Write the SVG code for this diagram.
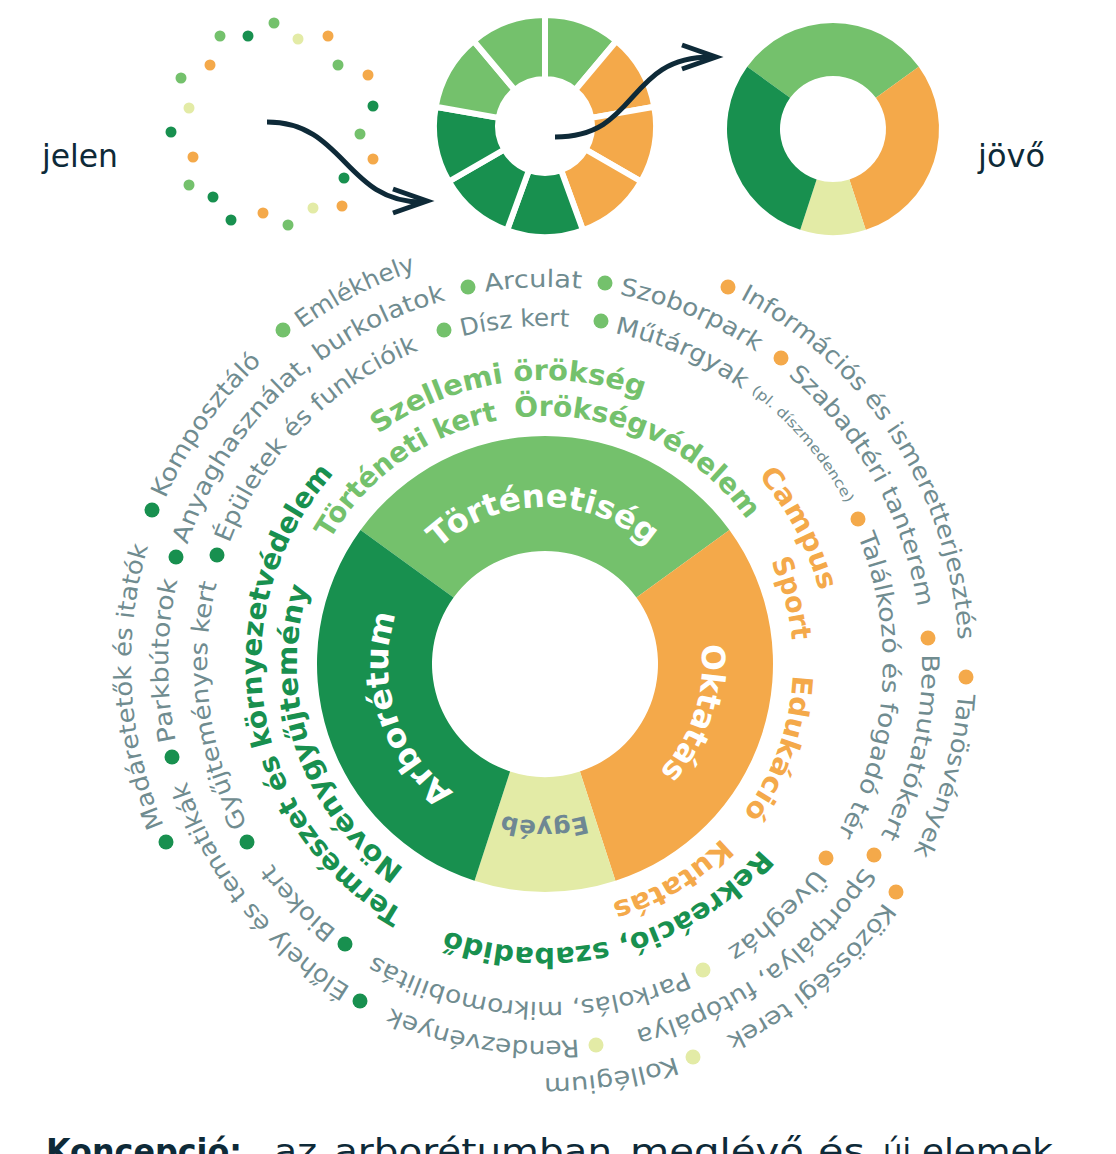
<svg xmlns="http://www.w3.org/2000/svg" width="1116" height="1154" viewBox="0 0 1116 1154">
<style>
.it{font-family:'DejaVu Sans',sans-serif;font-size:24px;fill:#708C90}
.sm{font-family:'DejaVu Sans',sans-serif;font-size:14px;fill:#708C90}
.cat{font-family:'DejaVu Sans',sans-serif;font-size:28px;font-weight:bold}
.lab{font-family:'DejaVu Sans',sans-serif;font-size:32px;font-weight:bold;fill:#fff}
.lg{fill:#74C16C}.dg{fill:#18904F}.or{fill:#F4A94A}.py{fill:#E3EBA6}
.seg{stroke:#fff;stroke-width:6;stroke-linejoin:miter}
.arr{fill:none;stroke:#0E2A38;stroke-width:5;stroke-linecap:butt;stroke-linejoin:miter}
.nv{font-family:'DejaVu Sans',sans-serif;fill:#0E2A38}
</style>
<defs>
<path id="p414" d="M545,1078 A414,414 0 1 1 545,250 A414,414 0 1 1 545,1078 A414,414 0 1 1 545,250 A414,414 0 1 1 545,1078"/>
<path id="p377" d="M545,1041 A377,377 0 1 1 545,287 A377,377 0 1 1 545,1041 A377,377 0 1 1 545,287 A377,377 0 1 1 545,1041"/>
<path id="p338" d="M545,1002 A338,338 0 1 1 545,326 A338,338 0 1 1 545,1002 A338,338 0 1 1 545,326 A338,338 0 1 1 545,1002"/>
<path id="p341" d="M545,1005 A341,341 0 1 1 545,323 A341,341 0 1 1 545,1005 A341,341 0 1 1 545,323 A341,341 0 1 1 545,1005"/>
<path id="p284" d="M545,948 A284,284 0 1 1 545,380 A284,284 0 1 1 545,948 A284,284 0 1 1 545,380 A284,284 0 1 1 545,948"/>
<path id="p248" d="M545,912 A248,248 0 1 1 545,416 A248,248 0 1 1 545,912 A248,248 0 1 1 545,416 A248,248 0 1 1 545,912"/>
<path id="p157" d="M545,821 A157,157 0 1 1 545,507 A157,157 0 1 1 545,821 A157,157 0 1 1 545,507 A157,157 0 1 1 545,821"/>
</defs>
<rect width="1116" height="1154" fill="#fff"/>

<g id="jelen">
<text class="nv" x="42" y="167" font-size="32" textLength="76" lengthAdjust="spacingAndGlyphs">jelen</text>
<g id="jelen-dots">
<circle cx="274" cy="23" r="5.5" class="lg"/><circle cx="220" cy="36" r="5.5" class="lg"/><circle cx="248" cy="36" r="5.5" class="dg"/>
<circle cx="298" cy="39" r="5.5" class="py"/><circle cx="328" cy="36" r="5.5" class="or"/><circle cx="210" cy="65" r="5.5" class="or"/>
<circle cx="338" cy="65" r="5.5" class="lg"/><circle cx="181" cy="78" r="5.5" class="lg"/><circle cx="368" cy="75" r="5.5" class="or"/>
<circle cx="189" cy="108" r="5.5" class="py"/><circle cx="373" cy="106" r="5.5" class="dg"/><circle cx="171" cy="132" r="5.5" class="dg"/>
<circle cx="360" cy="134" r="5.5" class="lg"/><circle cx="193" cy="157" r="5.5" class="or"/><circle cx="373" cy="159" r="5.5" class="or"/>
<circle cx="189" cy="185" r="5.5" class="lg"/><circle cx="344" cy="178" r="5.5" class="dg"/><circle cx="213" cy="197" r="5.5" class="dg"/>
<circle cx="342" cy="206" r="5.5" class="or"/><circle cx="313" cy="208" r="5.5" class="py"/><circle cx="231" cy="220" r="5.5" class="dg"/>
<circle cx="263" cy="213" r="5.5" class="or"/><circle cx="288" cy="225" r="5.5" class="lg"/>
</g>
</g>

<g id="atmenet">
<path class="seg lg" d="M545,15 A111,111 0 0 1 616.35,40.97 L575.21,90 A47,47 0 0 0 545,79 Z"/>
<path class="seg or" d="M616.35,40.97 A111,111 0 0 1 654.31,106.73 L591.29,117.84 A47,47 0 0 0 575.21,90 Z"/>
<path class="seg or" d="M654.31,106.73 A111,111 0 0 1 641.13,181.5 L585.7,149.5 A47,47 0 0 0 591.29,117.84 Z"/>
<path class="seg or" d="M641.13,181.5 A111,111 0 0 1 582.96,230.31 L561.07,170.17 A47,47 0 0 0 585.7,149.5 Z"/>
<path class="seg dg" d="M582.96,230.31 A111,111 0 0 1 507.04,230.31 L528.93,170.17 A47,47 0 0 0 561.07,170.17 Z"/>
<path class="seg dg" d="M507.04,230.31 A111,111 0 0 1 448.87,181.5 L504.3,149.5 A47,47 0 0 0 528.93,170.17 Z"/>
<path class="seg dg" d="M448.87,181.5 A111,111 0 0 1 435.69,106.73 L498.71,117.84 A47,47 0 0 0 504.3,149.5 Z"/>
<path class="seg lg" d="M435.69,106.73 A111,111 0 0 1 473.65,40.97 L514.79,90 A47,47 0 0 0 498.71,117.84 Z"/>
<path class="seg lg" d="M473.65,40.97 A111,111 0 0 1 545,15 L545,79 A47,47 0 0 0 514.79,90 Z"/>
</g>

<g id="jovo">
<path class="lg" d="M747.25,66.69 A106,106 0 0 1 918.75,66.69 L875.88,97.85 A53,53 0 0 0 790.12,97.85 Z"/>
<path class="or" d="M918.75,66.69 A106,106 0 0 1 865.75,229.82 L849.38,179.41 A53,53 0 0 0 875.88,97.85 Z"/>
<path class="py" d="M865.75,229.82 A106,106 0 0 1 800.25,229.82 L816.62,179.41 A53,53 0 0 0 849.38,179.41 Z"/>
<path class="dg" d="M800.25,229.82 A106,106 0 0 1 747.25,66.69 L790.12,97.85 A53,53 0 0 0 816.62,179.41 Z"/>
<text class="nv" x="978" y="167" font-size="32" textLength="67" lengthAdjust="spacingAndGlyphs">jövő</text>
</g>

<g id="connectors">
<path class="arr" d="M267,122 C345,122 345,202 422,202"/>
<polyline class="arr" points="393,189 427,201 393,213"/>
<path class="arr" d="M555,137 C640,137 625,57 711,57"/>
<polyline class="arr" points="682,45 716,57 682,69"/>
</g>

<g id="fo-kor">
<path id="seg-tortenetiseg" class="lg" d="M360.55,529.98 A228,228 0 0 1 729.45,529.98 L636.42,597.58 A113,113 0 0 0 453.58,597.58 Z"/>
<path id="seg-oktatas" class="or" d="M729.45,529.98 A228,228 0 0 1 615.46,880.84 L579.92,771.47 A113,113 0 0 0 636.42,597.58 Z"/>
<path id="seg-egyeb" class="py" d="M615.46,880.84 A228,228 0 0 1 474.54,880.84 L510.08,771.47 A113,113 0 0 0 579.92,771.47 Z"/>
<path id="seg-arboretum" class="dg" d="M474.54,880.84 A228,228 0 0 1 360.55,529.98 L453.58,597.58 A113,113 0 0 0 510.08,771.47 Z"/>
<text class="lab"><textPath href="#p157" startOffset="491" text-anchor="middle" textLength="230" lengthAdjust="spacingAndGlyphs">Történetiség</textPath></text>
<text class="lab"><textPath href="#p157" startOffset="197.3" text-anchor="middle" textLength="200" lengthAdjust="spacingAndGlyphs">Arborétum</textPath></text>
<text class="lab"><textPath href="#p157" startOffset="789.2" text-anchor="middle" textLength="138" lengthAdjust="spacingAndGlyphs">Oktatás</textPath></text>
<text class="lab" style="font-size:24px;fill:#6E8793"><textPath href="#p157" startOffset="986.5" text-anchor="middle" textLength="85" lengthAdjust="spacingAndGlyphs">Egyéb</textPath></text>
</g>

<g id="kategoriak">
<text class="cat lg"><textPath href="#p284" startOffset="713.8" textLength="277.6" lengthAdjust="spacingAndGlyphs">Szellemi örökség</textPath></text>
<text class="cat dg"><textPath href="#p284" startOffset="147.7" textLength="506.6" lengthAdjust="spacingAndGlyphs">Természet és környezetvédelem</textPath></text>
<text class="cat or"><textPath href="#p284" startOffset="1132.6" textLength="131.4" lengthAdjust="spacingAndGlyphs">Campus</textPath></text>
<text class="cat dg"><textPath href="#p284" startOffset="1539.1" textLength="345.5" lengthAdjust="spacingAndGlyphs">Rekreáció, szabadidő</textPath></text>
<text class="cat lg"><textPath href="#p248" startOffset="519.4" textLength="212.1" lengthAdjust="spacingAndGlyphs">Történeti kert</textPath></text>
<text class="cat lg"><textPath href="#p248" startOffset="748.8" textLength="266.2" lengthAdjust="spacingAndGlyphs">Örökségvédelem</textPath></text>
<text class="cat dg"><textPath href="#p248" startOffset="149.3" textLength="318.1" lengthAdjust="spacingAndGlyphs">Növénygyűjtemény</textPath></text>
<text class="cat or"><textPath href="#p248" startOffset="1062.6" textLength="82.2" lengthAdjust="spacingAndGlyphs">Sport</textPath></text>
<text class="cat or"><textPath href="#p248" startOffset="1179.5" textLength="149.3" lengthAdjust="spacingAndGlyphs">Edukáció</textPath></text>
<text class="cat or"><textPath href="#p248" startOffset="1361.3" textLength="129" lengthAdjust="spacingAndGlyphs">Kutatás</textPath></text>
</g>

<g id="elemek">
<g id="elem-dots">
<circle cx="166" cy="842" r="7.5" class="dg"/><circle cx="152" cy="510" r="7.5" class="dg"/><circle cx="283" cy="330" r="7.5" class="lg"/>
<circle cx="728" cy="287" r="7.5" class="or"/><circle cx="966" cy="677" r="7.5" class="or"/><circle cx="896" cy="892" r="7.5" class="or"/>
<circle cx="693" cy="1057" r="7.5" class="py"/>
<circle cx="360" cy="1001" r="7.5" class="dg"/><circle cx="172" cy="757" r="7.5" class="dg"/><circle cx="176" cy="557" r="7.5" class="dg"/>
<circle cx="468" cy="287" r="7.5" class="lg"/><circle cx="605" cy="283" r="7.5" class="lg"/><circle cx="781" cy="358" r="7.5" class="or"/>
<circle cx="928" cy="638" r="7.5" class="or"/><circle cx="874" cy="855" r="7.5" class="or"/><circle cx="596" cy="1045" r="7.5" class="py"/>
<circle cx="345" cy="944" r="7.5" class="dg"/><circle cx="247" cy="842" r="7.5" class="dg"/><circle cx="217" cy="555" r="7.5" class="dg"/>
<circle cx="444" cy="330" r="7.5" class="lg"/><circle cx="601" cy="321" r="7.5" class="lg"/><circle cx="858" cy="519" r="7.5" class="or"/>
<circle cx="826" cy="858" r="7.5" class="or"/><circle cx="703" cy="970" r="7.5" class="py"/>
</g>
<text class="it"><textPath href="#p414" startOffset="484.1" textLength="285.4" lengthAdjust="spacingAndGlyphs">Madáretetők és itatók</textPath></text>
<text class="it"><textPath href="#p414" startOffset="820.1" textLength="168.4" lengthAdjust="spacingAndGlyphs">Komposztáló</textPath></text>
<text class="it"><textPath href="#p414" startOffset="1040.5" textLength="128.6" lengthAdjust="spacingAndGlyphs">Emlékhely</textPath></text>
<text class="it"><textPath href="#p414" startOffset="1502.9" textLength="423.4" lengthAdjust="spacingAndGlyphs">Információs és ismeretterjesztés</textPath></text>
<text class="it"><textPath href="#p414" startOffset="1979.8" textLength="166.2" lengthAdjust="spacingAndGlyphs">Tanösvények</textPath></text>
<text class="it"><textPath href="#p414" startOffset="2203.8" textLength="209.5" lengthAdjust="spacingAndGlyphs">Közösségi terek</textPath></text>
<text class="it"><textPath href="#p414" startOffset="2467.6" textLength="133.7" lengthAdjust="spacingAndGlyphs">Kollégium</textPath></text>
<text class="it"><textPath href="#p377" startOffset="204" textLength="268.5" lengthAdjust="spacingAndGlyphs">Élőhely és tematikák</textPath></text>
<text class="it"><textPath href="#p377" startOffset="514.5" textLength="161.9" lengthAdjust="spacingAndGlyphs">Parkbútorok</textPath></text>
<text class="it"><textPath href="#p377" startOffset="713.3" textLength="370.4" lengthAdjust="spacingAndGlyphs">Anyaghasználat, burkolatok</textPath></text>
<text class="it"><textPath href="#p377" startOffset="1123.8" textLength="96.7" lengthAdjust="spacingAndGlyphs">Arculat</textPath></text>
<text class="it"><textPath href="#p377" startOffset="1258.7" textLength="149.4" lengthAdjust="spacingAndGlyphs">Szoborpark</textPath></text>
<text class="it"><textPath href="#p377" startOffset="1447.6" textLength="271.1" lengthAdjust="spacingAndGlyphs">Szabadtéri tanterem</textPath></text>
<text class="it"><textPath href="#p377" startOffset="1766" textLength="188.2" lengthAdjust="spacingAndGlyphs">Bemutatókert</textPath></text>
<text class="it"><textPath href="#p377" startOffset="1989.8" textLength="286.9" lengthAdjust="spacingAndGlyphs">Sportpálya, futópálya</textPath></text>
<text class="it"><textPath href="#p377" startOffset="2333.9" textLength="192.8" lengthAdjust="spacingAndGlyphs">Rendezvények</textPath></text>
<text class="it"><textPath href="#p338" startOffset="224.2" textLength="93.2" lengthAdjust="spacingAndGlyphs">Biokert</textPath></text>
<text class="it"><textPath href="#p338" startOffset="363.4" textLength="248.9" lengthAdjust="spacingAndGlyphs">Gyűjteményes kert</textPath></text>
<text class="it"><textPath href="#p338" startOffset="654.2" textLength="277.8" lengthAdjust="spacingAndGlyphs">Épületek és funkcióik</textPath></text>
<text class="it"><textPath href="#p338" startOffset="977.5" textLength="108" lengthAdjust="spacingAndGlyphs">Dísz kert</textPath></text>
<text class="it"><textPath href="#p338" startOffset="1131.5" textLength="140.4" lengthAdjust="spacingAndGlyphs">Műtárgyak</textPath></text>
<text class="sm"><textPath href="#p341" startOffset="1291.5" textLength="148" lengthAdjust="spacingAndGlyphs">(pl. díszmedence)</textPath></text>
<text class="it"><textPath href="#p338" startOffset="1460.6" textLength="309.1" lengthAdjust="spacingAndGlyphs">Találkozó és fogadó tér</textPath></text>
<text class="it"><textPath href="#p338" startOffset="1811.1" textLength="119.8" lengthAdjust="spacingAndGlyphs">Üvegház</textPath></text>
<text class="it"><textPath href="#p338" startOffset="1977.4" textLength="324.5" lengthAdjust="spacingAndGlyphs">Parkolás, mikromobilitás</textPath></text>
</g>

<g id="felirat">
<text class="nv" y="1163" font-size="34"><tspan x="46" font-weight="bold" textLength="196" lengthAdjust="spacingAndGlyphs">Koncepció:</tspan><tspan x="274" textLength="43" lengthAdjust="spacingAndGlyphs">az</tspan><tspan x="334" textLength="278" lengthAdjust="spacingAndGlyphs">arborétumban</tspan><tspan x="630" textLength="174" lengthAdjust="spacingAndGlyphs">meglévő</tspan><tspan x="818" textLength="47" lengthAdjust="spacingAndGlyphs">és</tspan><tspan x="883" textLength="28" lengthAdjust="spacingAndGlyphs">új</tspan><tspan x="922" textLength="131" lengthAdjust="spacingAndGlyphs">elemek</tspan></text>
</g>
</svg>
